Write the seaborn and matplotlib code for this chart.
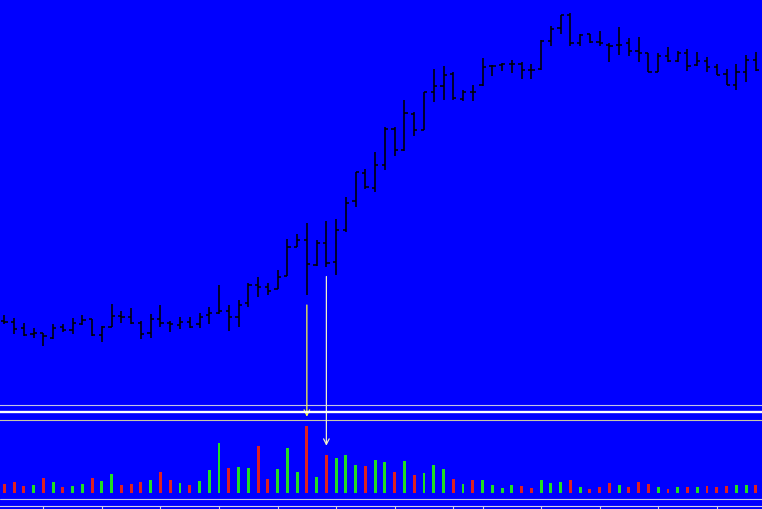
import numpy as np
import pandas as pd
import seaborn as sns
import matplotlib
matplotlib.use("Agg")
import matplotlib.pyplot as plt
from matplotlib.lines import Line2D

# price in pips above an arbitrary base, one entry per bar
opens = [28.3, 27, 20.7, 14.7, 15.7, 10.7, 21.7, 19, 25.3, 29.7, 13.7, 22.3, 33.3, 32.5, 25.8, 15.8,
         29.8, 26.3, 23.7, 26.7, 24.8, 33.7, 35.8, 38.5, 31.7, 45.8, 64, 62, 59.8, 72.8, 101.7, 108.7,
         83.7, 105.7, 86.7, 118.7, 148, 176, 160.7, 184, 219.7, 199.3, 234.7, 219.3, 256.7, 262.7,
         274.7, 250.5, 257.2, 263.7, 282.7, 284, 284.7, 285.5, 279.5, 279.7, 307.7, 320.7, 334, 306.5,
         314.8, 307.2, 304.5, 303.7, 305.8, 298.3, 296, 277.5, 293.3, 287.7, 295.9, 283.7, 287.7,
         281.7, 274.6, 264.4, 277, 288.8]
highs = [34, 31, 26, 20.7, 16, 24.7, 24.7, 30.7, 34, 30, 23.3, 45, 37.7, 40.7, 28, 35,
         44, 28.3, 31.8, 32.2, 36, 41.7, 64, 44, 48.8, 65.8, 71.7, 65.8, 79, 110, 115, 126,
         109, 128, 130, 152, 177, 180, 197, 222, 221.7, 249, 236.7, 257.3, 280, 283.5,
         276.7, 259.5, 264, 290.8, 284.2, 286, 289.5, 286.7, 285, 308.7, 322.8, 334, 335.7, 315,
         315.5, 317.7, 305.7, 321.8, 311.2, 311.7, 296, 295.8, 301.7, 298.3, 300, 296.7, 291.7,
         284.8, 280, 285, 294, 296.7]
lows = [25, 15, 13.3, 11, 3.3, 10, 17.3, 15, 24.3, 13.3, 7.3, 21.7, 25.7, 25, 10.5, 11.3,
        22.5, 16.7, 20.3, 20.8, 21.2, 24.8, 35, 18.3, 22.5, 41.7, 52.3, 54, 59.7, 72.7, 101.7, 54,
        83.3, 82.5, 74.5, 116.7, 142.3, 160, 156.7, 179.5, 193.3, 198.5, 213.3, 219, 246.7, 249.3,
        249.3, 248.3, 248.3, 263.5, 273.3, 278.3, 276.3, 270.3, 270.5, 279.5, 303.3, 314.7, 303.3, 303.3,
        306.5, 303.2, 287.3, 294.5, 293.3, 286.7, 277.3, 276.7, 287.3, 287.3, 278.3, 283.3, 277.3,
        274.3, 264.3, 259.3, 267.3, 278.3]
closes = [27, 19.7, 13.7, 15.7, 12.7, 21, 19.3, 26, 29, 13.7, 22.3, 32.7, 31.7, 25.8, 14.7, 29.7,
          26, 25, 26.7, 22.3, 32.5, 36, 38.5, 31.8, 43.7, 64, 62.5, 57.7, 71.8, 101.7, 108.7, 84.7,
          105.7, 85.7, 118.7, 145.7, 176.7, 161.7, 184, 219.7, 199.5, 235.7, 219.3, 256.7, 262.7, 274,
          251.3, 256.7, 256.7, 282.5, 283.5, 284.7, 285, 278.7, 279, 307.7, 320, 334, 306.5, 314.5,
          306.7, 305.7, 303.5, 304.3, 298.5, 295.8, 277.5, 293.5, 287.7, 295.8, 283.5, 287.7, 281.7,
          274.5, 264.5, 276.8, 289.3, 279.3]
volumes = [90, 107, 67, 80, 147, 107, 57, 67, 90, 147, 117, 187, 77, 90, 107, 127,
           207, 127, 97, 77, 117, 227, 497, 247, 257, 247, 470, 137, 237, 447, 207, 667,
           157, 377, 347, 377, 277, 267, 327, 307, 207, 317, 177, 197, 277, 237,
           137, 87, 127, 127, 77, 47, 77, 67, 47, 127, 97, 107, 127, 57,
           37, 57, 97, 77, 57, 107, 87, 57, 37, 57, 57, 57, 67,
           57, 67, 77, 77, 77]
time_ticks = [4, 10, 16, 22, 28, 34, 40, 46, 49, 55, 61, 67, 73]
arrow_bars = [31, 33]

df = pd.DataFrame({"open": opens, "high": highs, "low": lows, "close": closes, "volume": volumes})
df["bar"] = np.arange(len(df))
df["dir"] = np.where(df["close"] >= df["open"], "up", "down")

sns.set_theme(style="dark", rc={"axes.facecolor": "#0000FF", "figure.facecolor": "#0000FF"})

W, H = 762, 510
fig = plt.figure(figsize=(W / 100, H / 100), dpi=100)
ax = fig.add_axes([0, (H - 406) / H, 1, 406 / H])
axv = fig.add_axes([0, 3 / H, 1, 86 / H])

xlim = (-4.3 / 9.76, (W - 4.3) / 9.76)

# OHLC bars
tick = 0.33
ax.vlines(df["bar"], df["low"], df["high"], color="black", lw=1.15)
ax.hlines(df["open"], df["bar"] - tick, df["bar"], color="black", lw=1.15)
ax.hlines(df["close"], df["bar"], df["bar"] + tick, color="black", lw=1.15)
ax.set_xlim(xlim)
ax.set_ylim(-56, 350)
ax.set_xticks([])
ax.set_yticks([])
for s in ["top", "left", "right"]:
    ax.spines[s].set_visible(False)
ax.spines["bottom"].set_color("#C4C4E4")
ax.spines["bottom"].set_linewidth(0.8)

# volume histogram
pal = {"up": "#00FF00", "down": "#FF0000"}
sns.barplot(data=df, x="bar", y="volume", hue="dir", palette=pal,
            native_scale=True, width=0.3, dodge=False, legend=False, linewidth=0, ax=axv)
axv.set_xlim(xlim)
axv.set_ylim(-130, 730)
axv.axhline(-60, color="#C8C8F0", lw=0.8)
axv.set_xticks(time_ticks)
axv.set_xticklabels([])
axv.set_yticks([])
axv.set_xlabel("")
axv.set_ylabel("")
axv.tick_params(axis="x", direction="out", length=3, width=0.8, color="#D0D0E8", bottom=True)
for s in ["left", "right"]:
    axv.spines[s].set_visible(False)
axv.spines["top"].set_color("#C8C8A8")
axv.spines["top"].set_linewidth(0.8)
axv.spines["bottom"].set_color("#D0D0E8")
axv.spines["bottom"].set_linewidth(0.8)

# separator between windows
fig.add_artist(Line2D([0, 1], [(H - 412.8) / H] * 2, transform=fig.transFigure, color="white", lw=1.7))

# arrows from price bars down to their volume
for i, col in zip(arrow_bars, ["#FFFF40", "#F0F0C8"]):
    axv.annotate("", xy=(i, volumes[i] + 95), xycoords=axv.transData,
                 xytext=(i, lows[i] - 10), textcoords=ax.transData, annotation_clip=False,
                 arrowprops=dict(arrowstyle="->,head_length=0.5,head_width=0.25", color=col,
                                 lw=0.9, shrinkA=0, shrinkB=0, mutation_scale=8))

fig.savefig("out.png", dpi=100, facecolor=fig.get_facecolor())
